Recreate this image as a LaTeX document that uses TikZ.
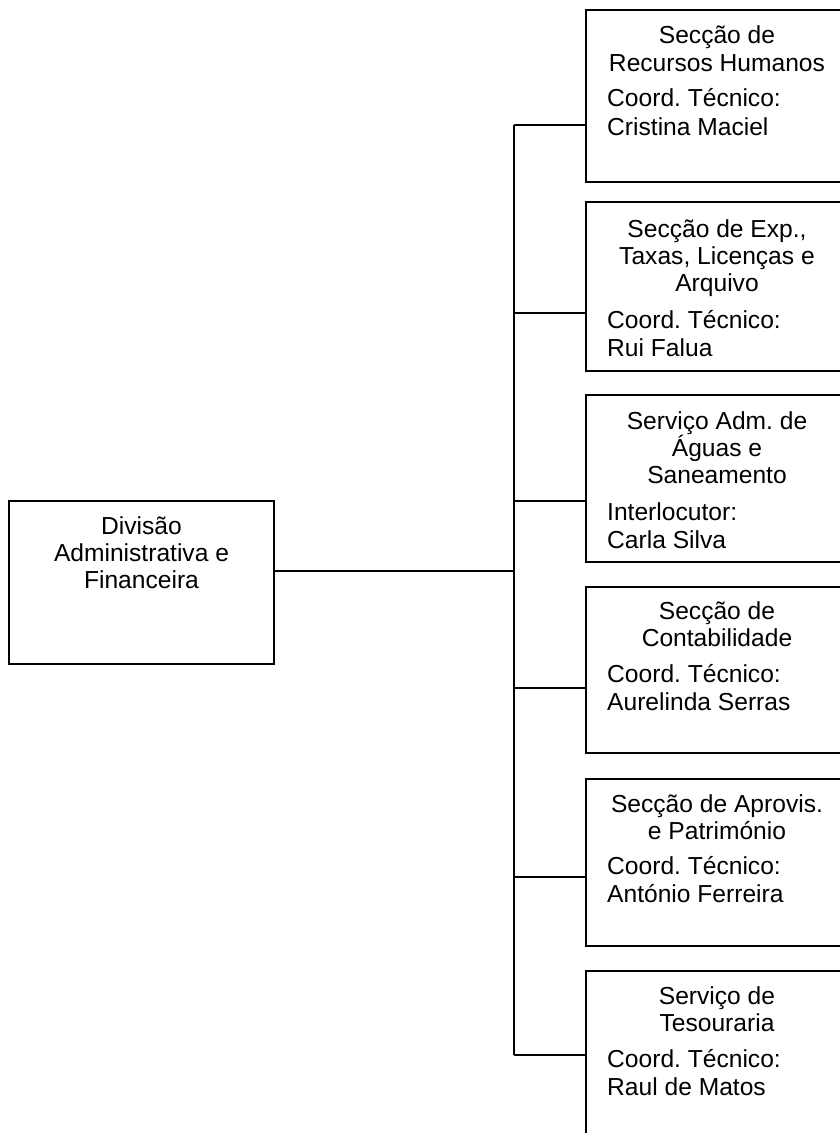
\documentclass[tikz,border=0pt]{standalone}
\usepackage{fontspec}
\setmainfont{Liberation Sans}
\begin{document}
\frenchspacing
\begin{tikzpicture}[x=1pt,y=-1pt,
  box/.style={draw=black,line width=1.8pt,rectangle,inner sep=0pt},
  ln/.style={inner sep=0pt,anchor=base,font=\frenchspacing\fontsize{24.6}{28}\selectfont},
  lnl/.style={ln,anchor=base west},
  wire/.style={draw=black,line width=1.8pt}]
\useasboundingbox (0,0) rectangle (840,1133);
% left box
\node[box,minimum width=265pt,minimum height=163pt] (d) at (141.5,582.5) {};
\node[ln] (d1) at (141.5,534) {Divisão};
\node[ln] (d2) at (141.5,561) {Administrativa e};
\node[ln] (d3) at (141.5,588) {Financeira};
% right boxes
\node[box,minimum width=262pt,minimum height=172pt] (b1) at (717,96) {};
\node[box,minimum width=262pt,minimum height=169pt] (b2) at (717,286.5) {};
\node[box,minimum width=262pt,minimum height=167pt] (b3) at (717,478.5) {};
\node[box,minimum width=262pt,minimum height=166pt] (b4) at (717,670) {};
\node[box,minimum width=262pt,minimum height=167pt] (b5) at (717,862.5) {};
\node[box,minimum width=262pt,minimum height=180pt] (b6) at (717,1061) {};
% texts box 1
\node[ln] (b1a) at (717,43) {Secção de};
\node[ln] (b1b) at (717,71) {Recursos Humanos};
\node[lnl] (b1c) at (607,106) {Coord. Técnico:};
\node[lnl] (b1d) at (607,135) {Cristina Maciel};
% box 2
\node[ln] (b2a) at (717,237) {Secção de Exp.,};
\node[ln] (b2b) at (717,264) {Taxas, Licenças e};
\node[ln] (b2c) at (717,291) {Arquivo};
\node[lnl] (b2d) at (607,328) {Coord. Técnico:};
\node[lnl] (b2e) at (607,356) {Rui Falua};
% box 3
\node[ln] (b3a) at (717,429) {Serviço Adm. de};
\node[ln] (b3b) at (717,456) {Águas e};
\node[ln] (b3c) at (717,483) {Saneamento};
\node[lnl] (b3d) at (607,520) {Interlocutor:};
\node[lnl] (b3e) at (607,548) {Carla Silva};
% box 4
\node[ln] (b4a) at (717,619) {Secção de};
\node[ln] (b4b) at (717,646) {Contabilidade};
\node[lnl] (b4c) at (607,682) {Coord. Técnico:};
\node[lnl] (b4d) at (607,710) {Aurelinda Serras};
% box 5
\node[ln] (b5a) at (717,812) {Secção de Aprovis.};
\node[ln] (b5b) at (717,839) {e Património};
\node[lnl] (b5c) at (607,874) {Coord. Técnico:};
\node[lnl] (b5d) at (607,902) {António Ferreira};
% box 6
\node[ln] (b6a) at (717,1004) {Serviço de};
\node[ln] (b6b) at (717,1031) {Tesouraria};
\node[lnl] (b6c) at (607,1067) {Coord. Técnico:};
\node[lnl] (b6d) at (607,1095) {Raul de Matos};
% connectors
\coordinate (m) at (514,571);
\coordinate (t1) at (514,125);
\coordinate (t2) at (514,313);
\coordinate (t3) at (514,501);
\coordinate (t4) at (514,688);
\coordinate (t5) at (514,877);
\coordinate (t6) at (514,1055);
\draw[wire] (d.east |- m) -- (m);
\draw[wire] (t1) -- (t6);
\draw[wire] (t1) -- (t1 -| b1.west);
\draw[wire] (t2) -- (t2 -| b2.west);
\draw[wire] (t3) -- (t3 -| b3.west);
\draw[wire] (t4) -- (t4 -| b4.west);
\draw[wire] (t5) -- (t5 -| b5.west);
\draw[wire] (t6) -- (t6 -| b6.west);
\end{tikzpicture}
\end{document}
